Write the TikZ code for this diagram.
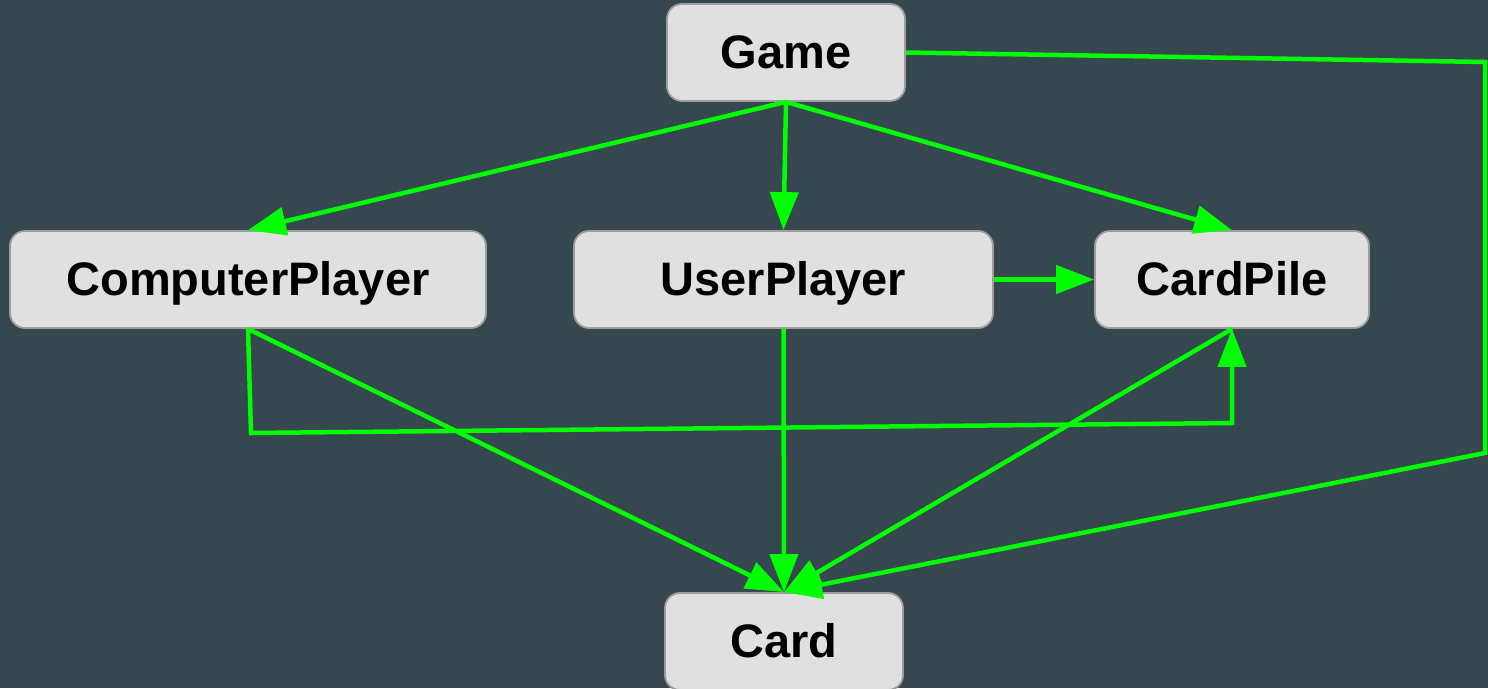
\documentclass[tikz,border=0pt]{standalone}
\usepackage{fontspec}
\setmainfont{Liberation Sans}
\usetikzlibrary{arrows.meta}
\definecolor{bgslate}{RGB}{55,71,79}
\definecolor{boxfill}{RGB}{224,224,224}
\definecolor{boxline}{RGB}{158,158,158}
\definecolor{linkgreen}{RGB}{0,255,0}
\tikzset{
  classbox/.style={draw=boxline, line width=1.8pt, fill=boxfill, rounded corners=15pt,
    inner sep=0pt, minimum height=97pt, text height=34pt, text depth=2pt,
    font=\fontsize{47}{50}\selectfont\bfseries, text=black},
  link/.style={draw=linkgreen, line width=4.5pt, -{Triangle[length=38pt,width=28pt]}}
}
\begin{document}
\begin{tikzpicture}[x=1pt,y=-1pt]
  \fill[bgslate] (0,0) rectangle (1488,688);
  \useasboundingbox (0,0) rectangle (1488,688);

  % classes
  \node[classbox, minimum width=238pt] (game) at (786,52.5) {Game};
  \node[classbox, minimum width=476pt] (cp) at (248,279.5) {ComputerPlayer};
  \node[classbox, minimum width=419pt] (up) at (783.5,279.5) {UserPlayer};
  \node[classbox, minimum width=274pt] (pile) at (1232,279.5) {CardPile};
  \node[classbox, minimum width=238pt] (card) at (784,641.5) {Card};

  % bend points
  \coordinate (g1) at (1485,62);
  \coordinate (g2) at (1485,453);
  \coordinate (c1) at (251,433);
  \coordinate (c2) at (1232,423);

  % associations
  \draw[link] (game.south) -- (cp.north);
  \draw[link] (game.south) -- (up.north);
  \draw[link] (game.south) -- (pile.north);
  \draw[link] (up.east) -- (pile.west);
  \draw[link] (cp.south) -- (card.north);
  \draw[link] (up.south) -- (card.north);
  \draw[link] (pile.south) -- (card.north);
  \draw[link] (cp.south) -- (c1) -- (c2) -- (pile.south);
  \draw[link] (game.east) -- (g1) -- (g2) -- (card.north);
\end{tikzpicture}
\end{document}
